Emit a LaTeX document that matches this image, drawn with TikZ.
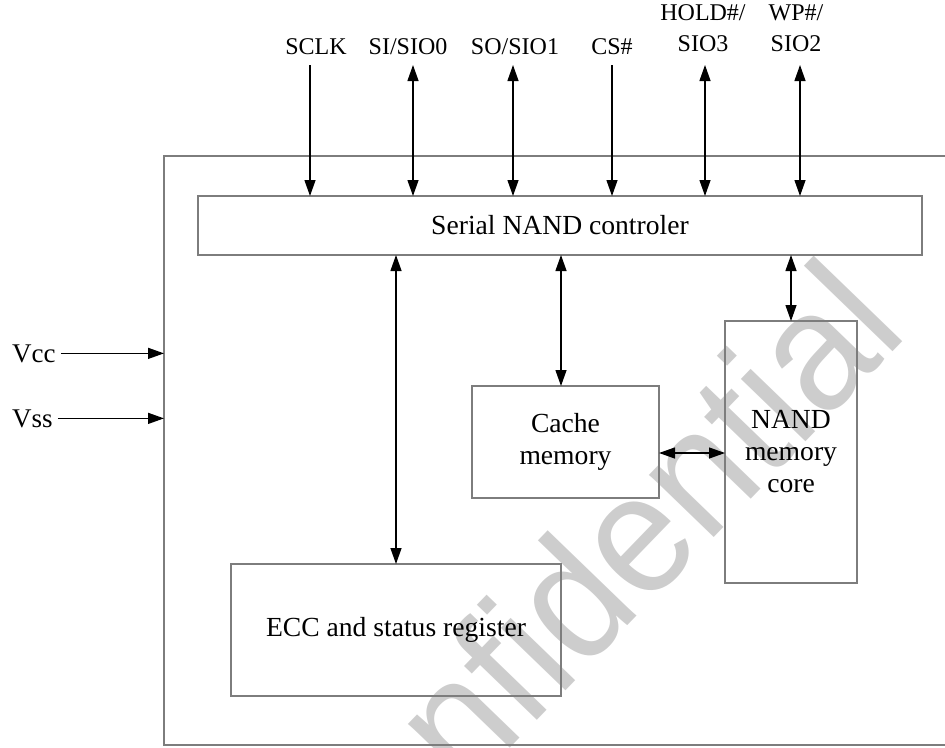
\documentclass[tikz,border=0pt]{standalone}
\usepackage{fontspec}
\setmainfont{Liberation Serif}
\newfontfamily\wmfont{Liberation Sans}
\usetikzlibrary{arrows.meta}
\definecolor{boxgray}{RGB}{125,125,125}
\definecolor{wmgray}{RGB}{205,205,205}
\begin{document}
\begin{tikzpicture}[x=1pt,y=-1pt,
  box/.style={draw=boxgray, line width=1.6pt, inner sep=0pt, outer sep=0pt, align=center, font=\fontsize{27.6}{32}\selectfont},
  arr/.style={line width=1.3pt, -{Triangle[length=16pt,width=11pt]}},
  darr/.style={line width=1.3pt, {Triangle[length=16pt,width=11pt]}-{Triangle[length=16pt,width=11pt]}},
  pinlbl/.style={anchor=south, inner sep=0pt, align=center, font=\fontsize{24}{31}\selectfont},
  pwr/.style={anchor=base west, inner sep=0pt, font=\fontsize{27}{32}\selectfont}]
\useasboundingbox (0,0) rectangle (945,747);
% watermark
\node[rotate=46, anchor=base east, inner sep=0pt, text=wmgray, font=\wmfont\fontsize{170}{172}\selectfont] (wm) at (910,334) {\scalebox{0.94}[1]{Confidential}};
% boxes
\node[box, minimum width=800pt, minimum height=589pt, anchor=north west] (chip) at (164,156) {};
\node[box, minimum width=724pt, minimum height=59pt, anchor=north west] (ctrl) at (198,196) {Serial NAND controler};
\node[box, minimum width=187pt, minimum height=112pt, anchor=north west] (cache) at (472,386) {Cache\\memory};
\node[box, minimum width=132pt, minimum height=262pt, anchor=north west] (nand) at (725,321) {NAND\\memory\\core};
\node[box, minimum width=330pt, minimum height=132pt, anchor=north west] (ecc) at (231,564) {ECC and status register};
% pin labels
\node[pinlbl] (sclk) at (316,55) {SCLK};
\node[pinlbl] (si) at (408,55) {SI/SIO0};
\node[pinlbl] (so) at (515,55) {SO/SIO1};
\node[pinlbl] (cs) at (612,55) {CS\#};
\node[pinlbl] (hold) at (703,52) {HOLD\#/\\SIO3};
\node[pinlbl] (wp) at (796,52) {WP\#/\\SIO2};
% pin arrow tops
\coordinate (p1) at (310,65);
\coordinate (p2) at (413,65);
\coordinate (p3) at (513,65);
\coordinate (p4) at (612,65);
\coordinate (p5) at (705,65);
\coordinate (p6) at (800,65);
\draw[arr] (p1) -- (p1 |- ctrl.north);
\draw[darr] (p2) -- (p2 |- ctrl.north);
\draw[darr] (p3) -- (p3 |- ctrl.north);
\draw[arr] (p4) -- (p4 |- ctrl.north);
\draw[darr] (p5) -- (p5 |- ctrl.north);
\draw[darr] (p6) -- (p6 |- ctrl.north);
% internal connectors
\coordinate (xe) at (396,0);
\coordinate (xc) at (561,0);
\coordinate (yh) at (0,453);
\draw[darr] (ctrl.south -| xe) -- (ecc.north -| xe);
\draw[darr] (ctrl.south -| xc) -- (cache.north -| xc);
\draw[darr] (ctrl.south -| nand.north) -- (nand.north);
\draw[darr] (cache.east |- yh) -- (nand.west |- yh);
% power
\node[pwr] (vcc) at (12,362) {Vcc};
\node[pwr] (vss) at (12,427) {Vss};
\draw[arr] ([xshift=5pt]vcc.east) -- (vcc.east -| chip.west);
\draw[arr] ([xshift=5pt]vss.east) -- (vss.east -| chip.west);
\end{tikzpicture}
\end{document}
